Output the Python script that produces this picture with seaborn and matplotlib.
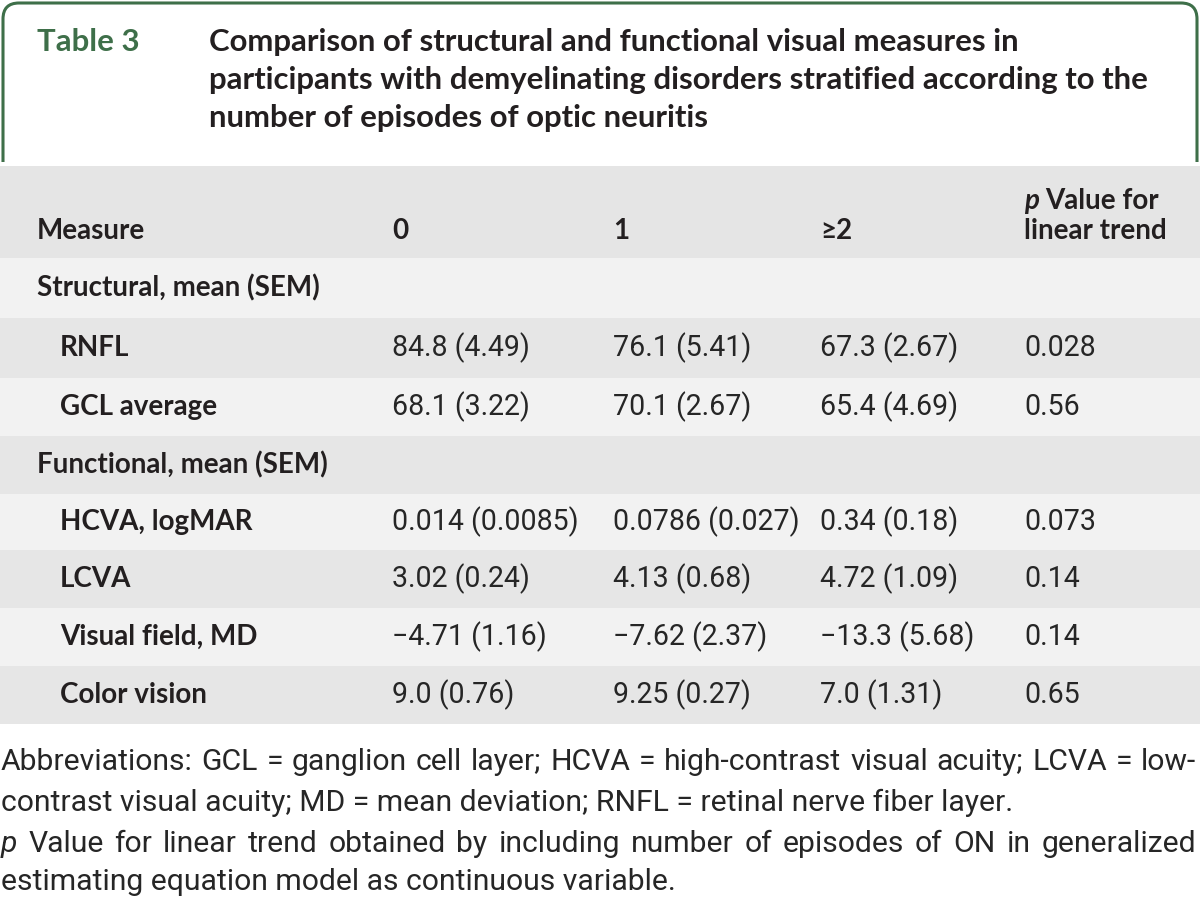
import matplotlib
matplotlib.use("Agg")
import matplotlib.pyplot as plt
from matplotlib import font_manager as fm
from matplotlib.path import Path
from matplotlib.patches import PathPatch
import seaborn as sns

sns.set_theme(style="white")

# ---------------- data ----------------
table_label = "Table 3"
title_lines = [
    "Comparison of structural and functional visual measures in",
    "participants with demyelinating disorders stratified according to the",
    "number of episodes of optic neuritis",
]
col_headers = ["0", "1", "\u22652"]
pval_header = ["Value for", "linear trend"]
sections = ["Structural, mean (SEM)", "Functional, mean (SEM)"]
structural_measures = ["RNFL", "GCL average"]
structural_col0 = ["84.8 (4.49)", "68.1 (3.22)"]
structural_col1 = ["76.1 (5.41)", "70.1 (2.67)"]
structural_col2 = ["67.3 (2.67)", "65.4 (4.69)"]
structural_p = ["0.028", "0.56"]
functional_measures = ["HCVA, logMAR", "LCVA", "Visual field, MD", "Color vision"]
functional_col0 = ["0.014 (0.0085)", "3.02 (0.24)", "\u22124.71 (1.16)", "9.0 (0.76)"]
functional_col1 = ["0.0786 (0.027)", "4.13 (0.68)", "\u22127.62 (2.37)", "9.25 (0.27)"]
functional_col2 = ["0.34 (0.18)", "4.72 (1.09)", "\u221213.3 (5.68)", "7.0 (1.31)"]
functional_p = ["0.073", "0.14", "0.14", "0.65"]
footnote1 = ["Abbreviations: GCL = ganglion cell layer; HCVA = high-contrast visual acuity; LCVA = low-",
             "contrast visual acuity; MD = mean deviation; RNFL = retinal nerve fiber layer."]
footnote2 = ["p", "Value for linear trend obtained by including number of episodes of ON in generalized",
             "estimating equation model as continuous variable."]

# ---------------- style ----------------
GREEN = "#3e6f49"
TXT = "#231f20"
NUM_TXT = "#262626"
HEAD_BG = "#e5e5e5"
LIGHT_BG = "#f2f2f2"
DARK_BG = "#e6e6e6"

def pick(cands, **kw):
    for c in cands:
        try:
            fm.findfont(fm.FontProperties(family=c, **kw), fallback_to_default=False)
            return c
        except Exception:
            pass
    return "DejaVu Sans"

BOLD_FAM = pick(["Lato", "Open Sans", "Liberation Sans"])
NUM_FAM = pick(["Roboto", "Liberation Sans"])
FOOT_FAM = pick(["Roboto", "Liberation Sans"])

W, H = 1200, 899
fig = plt.figure(figsize=(W / 100, H / 100), dpi=100)
ax = fig.add_axes([0, 0, 1, 1])
ax.set_xlim(0, W)
ax.set_ylim(H, 0)
ax.axis("off")
renderer = fig.canvas.get_renderer()

def width_of(s, size, **kw):
    t = ax.text(0, 0, s, fontsize=size, **kw)
    w = t.get_window_extent(renderer).width
    t.remove()
    return w

def fit(s, target, **kw):
    return 20.0 * target / width_of(s, 20.0, **kw)

# green open frame with rounded top corners
r = 16
x0, x1, ytop, ybot = 3, 1197, 3, 162
verts = [(x0, ybot), (x0, ytop + r), (x0, ytop), (x0 + r, ytop),
         (x1 - r, ytop), (x1, ytop), (x1, ytop + r), (x1, ybot)]
codes = [Path.MOVETO, Path.LINETO, Path.CURVE3, Path.CURVE3,
         Path.LINETO, Path.CURVE3, Path.CURVE3, Path.LINETO]
ax.add_patch(PathPatch(Path(verts, codes), fill=False, edgecolor=GREEN, lw=2.2))

bold = dict(family=BOLD_FAM, fontweight="bold")
TFS = fit(title_lines[1], 938, **bold)
ax.text(37, 42, table_label, color=GREEN, fontsize=TFS, va="center", ha="left", **bold)
for i, line in enumerate(title_lines):
    ax.text(209, 42 + i * 38, line, color=TXT, fontsize=TFS, va="center", ha="left", **bold)

# row bands
bounds = [166, 258, 318, 378, 436, 494, 550, 608, 666, 724]
band_colors = [HEAD_BG, LIGHT_BG, DARK_BG, LIGHT_BG, DARK_BG, LIGHT_BG, DARK_BG, LIGHT_BG, DARK_BG]
for (ya, yb), c in zip(zip(bounds[:-1], bounds[1:]), band_colors):
    ax.axhspan(ya, yb, xmin=0, xmax=1, color=c, lw=0)

col_x = [392, 613, 820, 1024]
HFS = fit(sections[0], 283, **bold)
ax.text(37, 231, "Measure", color=TXT, fontsize=HFS, va="center", **bold)
for x, h in zip(col_x[:3], col_headers):
    ax.text(x, 231, h, color=TXT, fontsize=HFS, va="center", **bold)
tp = ax.text(col_x[3], 201, "p ", color=TXT, fontsize=HFS, fontstyle="italic", va="center", **bold)
pw = tp.get_window_extent(renderer).width
ax.text(col_x[3] + pw, 201, pval_header[0], color=TXT, fontsize=HFS, va="center", **bold)
ax.text(col_x[3], 231, pval_header[1], color=TXT, fontsize=HFS, va="center", **bold)

centers = [(a + b) / 2 for a, b in zip(bounds[1:-1], bounds[2:])]
num = dict(family=NUM_FAM, fontweight="normal")
NFS = fit("0.014 (0.0085)", 186, **num)

def put_rows(ys, names, c0, c1, c2, p):
    for y, n, a, b, c, d in zip(ys, names, c0, c1, c2, p):
        ax.text(60, y, n, color=TXT, fontsize=HFS, va="center", **bold)
        for x, v in zip(col_x, [a, b, c, d]):
            ax.text(x, y, v, color=NUM_TXT, fontsize=NFS, va="center", **num)

ax.text(37, centers[0], sections[0], color=TXT, fontsize=HFS, va="center", **bold)
put_rows(centers[1:3], structural_measures, structural_col0, structural_col1, structural_col2, structural_p)
ax.text(37, centers[3], sections[1], color=TXT, fontsize=HFS, va="center", **bold)
put_rows(centers[4:8], functional_measures, functional_col0, functional_col1, functional_col2, functional_p)

# footnotes (justified lines)
foot = dict(family=FOOT_FAM, fontweight="normal")
FFS = fit(footnote1[1], 1010, **foot)

def justified(words, y, xa, xb, styles=None):
    styles = styles or [{}] * len(words)
    widths = [width_of(w, FFS, **foot, **s) for w, s in zip(words, styles)]
    gap = (xb - xa - sum(widths)) / max(len(words) - 1, 1)
    x = xa
    for w, s, wd in zip(words, styles, widths):
        ax.text(x, y, w, fontsize=FFS, color=NUM_TXT, va="center", **foot, **s)
        x += wd + gap

justified(footnote1[0].split(" "), 762, 1, 1196)
ax.text(1, 803, footnote1[1], fontsize=FFS, color=NUM_TXT, va="center", **foot)
w3 = [footnote2[0]] + footnote2[1].split(" ")
st3 = [{"fontstyle": "italic"}] + [{}] * (len(w3) - 1)
justified(w3, 844, 1, 1196, st3)
ax.text(1, 882, footnote2[2], fontsize=FFS, color=NUM_TXT, va="center", **foot)

fig.savefig("out.png", dpi=100)
